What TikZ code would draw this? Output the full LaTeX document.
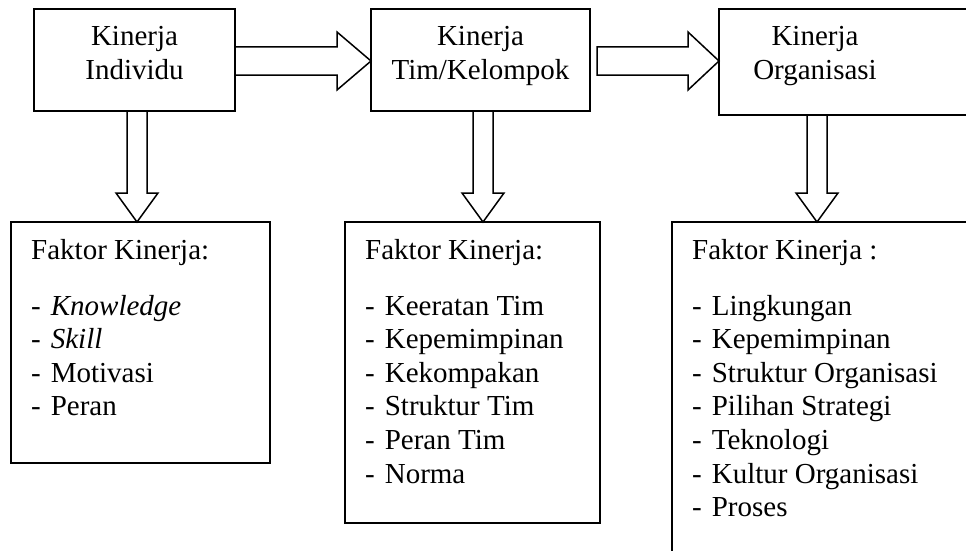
\documentclass[tikz,border=0pt]{standalone}
\usepackage{fontspec}
\setmainfont{Liberation Serif}

\newcommand{\fitem}{-\hspace{10pt}}

\tikzset{
  kbox/.style={draw, line width=1.5pt, anchor=north west, inner sep=0pt, outer sep=0pt},
  barrow/.style={draw, line width=1.5pt, line join=miter},
  ktext/.style={inner sep=0pt, font=\fontsize{29}{33.6}\selectfont},
}

\begin{document}
\begin{tikzpicture}[x=1pt,y=1pt,yscale=-1,xscale=1]
\useasboundingbox (0,0) rectangle (966,551);
\clip (0,0) rectangle (966,551);

%Shape: Rectangle [Kinerja Individu]
\node (ind) [kbox, minimum width=201pt, minimum height=102pt] at (34,9) {};
%Shape: Rectangle [Kinerja Tim/Kelompok]
\node (tim) [kbox, minimum width=219pt, minimum height=102pt] at (371,9) {};
%Shape: Rectangle [Kinerja Organisasi]
\node (org) [kbox, minimum width=300pt, minimum height=106pt] at (719,9) {};
%Shape: Rectangle [Faktor Kinerja individu]
\node (fkind) [kbox, minimum width=259pt, minimum height=241pt] at (11,222) {};
%Shape: Rectangle [Faktor Kinerja tim]
\node (fktim) [kbox, minimum width=255pt, minimum height=301pt] at (345,222) {};
%Shape: Rectangle [Faktor Kinerja organisasi]
\node (fkorg) [kbox, minimum width=320pt, minimum height=360pt] at (672,222) {};

\coordinate (tim-out) at (597,61);

%Shape: Right Arrow
\draw [barrow] (ind.east |- 0,47) -- (337,47) -- (337,32) -- (tim.west |- 0,61) -- (337,90) -- (337,75) -- (ind.east |- 0,75) -- cycle ;
%Shape: Right Arrow
\draw [barrow] (tim-out |- 0,47) -- (688,47) -- (688,32) -- (org.west |- 0,61) -- (688,90) -- (688,75) -- (tim-out |- 0,75) -- cycle ;
%Shape: Down Arrow
\draw [barrow] (127,0 |- ind.south) -- (127,193) -- (116,193) -- (137,0 |- fkind.north) -- (158,193) -- (147,193) -- (147,0 |- ind.south) ;
%Shape: Down Arrow
\draw [barrow] (473,0 |- tim.south) -- (473,193) -- (462,193) -- (483,0 |- fktim.north) -- (504,193) -- (493,193) -- (493,0 |- tim.south) ;
%Shape: Down Arrow
\draw [barrow] (807,0 |- org.south) -- (807,193) -- (796,193) -- (817,0 |- fkorg.north) -- (838,193) -- (827,193) -- (827,0 |- org.south) ;

% Text Node
\node (t-ind) [ktext, anchor=north, align=center] at (134.5,26.2) {Kinerja\\Individu};
% Text Node
\node (t-tim) [ktext, anchor=north, align=center] at (480.5,26.2) {Kinerja\\Tim/Kelompok};
% Text Node
\node (t-org) [ktext, anchor=north, align=center] at (815,26.2) {Kinerja\\Organisasi};
% Text Node
\node (t-fkind) [ktext, anchor=north west, align=left] at (31,239.2) {Faktor Kinerja:\\[22pt]
  \fitem\textit{Knowledge}\\ \fitem\textit{Skill}\\ \fitem Motivasi\\ \fitem Peran};
% Text Node
\node (t-fktim) [ktext, anchor=north west, align=left] at (365,239.2) {Faktor Kinerja:\\[22pt]
  \fitem Keeratan Tim\\ \fitem Kepemimpinan\\ \fitem Kekompakan\\ \fitem Struktur Tim\\ \fitem Peran Tim\\ \fitem Norma};
% Text Node
\node (t-fkorg) [ktext, anchor=north west, align=left] at (692,239.2) {Faktor Kinerja :\\[22pt]
  \fitem Lingkungan\\ \fitem Kepemimpinan\\ \fitem Struktur Organisasi\\ \fitem Pilihan Strategi\\ \fitem Teknologi\\ \fitem Kultur Organisasi\\ \fitem Proses};

\end{tikzpicture}
\end{document}
